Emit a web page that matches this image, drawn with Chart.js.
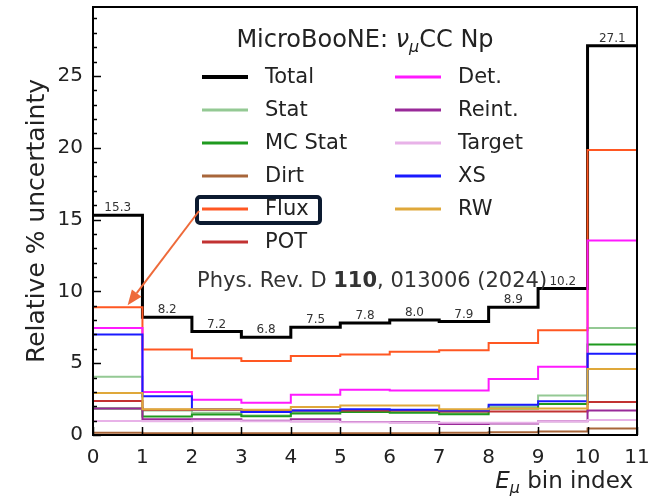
<!DOCTYPE html>
<html>
<head>
<meta charset="utf-8">
<script src="https://cdn.jsdelivr.net/npm/chart.js@4.4.1/dist/chart.umd.min.js"></script>
<style>
  body { margin: 0; background: #fff; }
  canvas { display: block; }
</style>
</head>
<body>
<canvas id="uncChart" width="654" height="498"></canvas>
<script>
// bin edges 0..11, one value per bin (relative % uncertainty)
const binEdges = [0, 1, 2, 3, 4, 5, 6, 7, 8, 9, 10, 11];
const total  = [15.3, 8.2, 7.2, 6.8, 7.5, 7.8, 8.0, 7.9, 8.9, 10.2, 27.1];
const stat   = [4.05, 1.7, 1.55, 1.35, 1.6, 1.7, 1.65, 1.55, 2.0, 2.75, 7.45];
const mcStat = [1.85, 1.28, 1.42, 1.3, 1.5, 1.6, 1.55, 1.45, 1.85, 2.15, 6.3];
const dirt   = [0.15, 0.12, 0.12, 0.12, 0.12, 0.12, 0.12, 0.15, 0.2, 0.25, 0.45];
const flux   = [8.9, 5.95, 5.35, 5.15, 5.5, 5.6, 5.8, 5.9, 6.4, 7.3, 19.85];
const pot    = [2.36, 1.75, 1.75, 1.7, 1.7, 1.7, 1.7, 1.63, 1.63, 1.63, 2.29];
const det    = [7.45, 3.0, 2.45, 2.25, 2.8, 3.15, 3.1, 3.1, 3.9, 4.75, 13.55];
const reint  = [1.85, 1.1, 1.1, 1.0, 1.1, 0.9, 0.88, 0.77, 0.8, 0.95, 1.7];
const target = [0.97, 0.95, 1.0, 0.95, 0.93, 0.88, 0.86, 0.86, 0.86, 0.95, 1.05];
const xs     = [7.0, 2.7, 1.8, 1.6, 1.7, 1.8, 1.75, 1.7, 2.1, 2.35, 5.65];
const rw     = [2.92, 1.8, 1.8, 1.75, 1.95, 2.05, 2.05, 1.8, 1.85, 1.85, 4.6];

const xTicks = [0, 1, 2, 3, 4, 5, 6, 7, 8, 9, 10, 11];
const yTicks = [0, 5, 10, 15, 20, 25];

const series = [
  { label: "Total",   data: total,  color: "#000000", width: 3 },
  { label: "Stat",    data: stat,   color: "#94c994", width: 2 },
  { label: "MC Stat", data: mcStat, color: "#1f9a1f", width: 2 },
  { label: "Dirt",    data: dirt,   color: "#a8663a", width: 2 },
  { label: "Flux",    data: flux,   color: "#ff5722", width: 2 },
  { label: "POT",     data: pot,    color: "#c23232", width: 2 },
  { label: "Det.",    data: det,    color: "#ff1aff", width: 2 },
  { label: "Reint.",  data: reint,  color: "#992a99", width: 2 },
  { label: "Target",  data: target, color: "#e8b2e8", width: 2 },
  { label: "XS",      data: xs,     color: "#1a1aff", width: 2 },
  { label: "RW",      data: rw,     color: "#dfa83a", width: 2 }
];

// histogram steps: value i holds from edge i to edge i+1
function toSteps(vals) {
  return binEdges.map((e, i) => ({ x: e, y: vals[Math.min(i, vals.length - 1)] }));
}

const FONT = "'DejaVu Sans', sans-serif";

const decorPlugin = {
  id: "decor",
  afterDraw(chart) {
    const ctx = chart.ctx;
    const a = chart.chartArea;
    const xs_ = chart.scales.x;
    const ys_ = chart.scales.y;
    ctx.save();

    // ticks (inward)
    ctx.strokeStyle = "#000";
    ctx.lineWidth = 1.5;
    for (let v = 0; v <= 29; v++) {
      const y = Math.round(ys_.getPixelForValue(v)) + 0.5;
      const len = v % 5 === 0 ? 8 : 4;
      ctx.beginPath();
      ctx.moveTo(a.left, y);
      ctx.lineTo(a.left + len, y);
      ctx.stroke();
    }
    xTicks.forEach(v => {
      const x = Math.round(xs_.getPixelForValue(v)) + 0.5;
      ctx.beginPath();
      ctx.moveTo(x, a.bottom);
      ctx.lineTo(x, a.bottom - 8);
      ctx.stroke();
    });

    // frame
    ctx.lineWidth = 2;
    ctx.strokeRect(a.left, a.top, a.right - a.left, a.bottom - a.top);

    // total values above bins
    ctx.fillStyle = "#333";
    ctx.font = "12px " + FONT;
    ctx.textAlign = "center";
    ctx.textBaseline = "alphabetic";
    total.forEach((v, i) => {
      const x = xs_.getPixelForValue(binEdges[i] + 0.5);
      const y = ys_.getPixelForValue(v) - 4;
      ctx.fillText(v.toFixed(1), x, y);
    });

    // title
    ctx.fillStyle = "#222";
    ctx.textAlign = "left";
    const t1 = "MicroBooNE: ", t4 = "CC Np";
    ctx.font = "24px " + FONT;
    const w1 = ctx.measureText(t1).width;
    const w4 = ctx.measureText(t4).width;
    ctx.font = "italic 24px " + FONT;
    const w2 = ctx.measureText("\u03bd").width;
    ctx.font = "italic 16px " + FONT;
    const w3 = ctx.measureText("\u03bc").width;
    let tx = 365 - (w1 + w2 + w3 + w4) / 2;
    const ty = 47;
    ctx.font = "24px " + FONT;
    ctx.fillText(t1, tx, ty); tx += w1;
    ctx.font = "italic 24px " + FONT;
    ctx.fillText("\u03bd", tx, ty); tx += w2;
    ctx.font = "italic 16px " + FONT;
    ctx.fillText("\u03bc", tx, ty + 5); tx += w3;
    ctx.font = "24px " + FONT;
    ctx.fillText(t4, tx, ty);

    // legend, two columns
    ctx.font = "21px " + FONT;
    ctx.textBaseline = "middle";
    series.forEach((s, i) => {
      const col = i < 6 ? 0 : 1;
      const row = col === 0 ? i : i - 6;
      const lx = col === 0 ? 202 : 395;
      const ly = 77 + row * 33;
      ctx.strokeStyle = s.color;
      ctx.lineWidth = s.width + 1;
      ctx.beginPath();
      ctx.moveTo(lx, ly);
      ctx.lineTo(lx + 46, ly);
      ctx.stroke();
      ctx.fillStyle = "#222";
      ctx.fillText(s.label, lx + 63, ly + 1);
    });

    // box around Flux entry
    ctx.strokeStyle = "#0c1a30";
    ctx.lineWidth = 4;
    ctx.beginPath();
    ctx.roundRect(197, 197, 123, 26, 3);
    ctx.stroke();

    // arrow from Flux entry to the flux line of bin 0
    const sx = 199, sy = 211;
    const ex = xs_.getPixelForValue(0.7), ey = ys_.getPixelForValue(flux[0]) - 2;
    const ang = Math.atan2(ey - sy, ex - sx);
    const hl = 15, hw = 6;
    const bx = ex - hl * Math.cos(ang), by = ey - hl * Math.sin(ang);
    ctx.strokeStyle = "#ee6a3a";
    ctx.fillStyle = "#ee6a3a";
    ctx.lineWidth = 2;
    ctx.beginPath();
    ctx.moveTo(sx, sy);
    ctx.lineTo(bx, by);
    ctx.stroke();
    ctx.beginPath();
    ctx.moveTo(ex, ey);
    ctx.lineTo(bx + hw * Math.sin(ang), by - hw * Math.cos(ang));
    ctx.lineTo(bx - hw * Math.sin(ang), by + hw * Math.cos(ang));
    ctx.closePath();
    ctx.fill();

    // reference text
    ctx.textBaseline = "alphabetic";
    ctx.fillStyle = "#333";
    let px = 197;
    const py = 287;
    ctx.font = "21px " + FONT;
    ctx.fillText("Phys. Rev. D ", px, py); px += ctx.measureText("Phys. Rev. D ").width;
    ctx.font = "bold 21px " + FONT;
    ctx.fillText("110", px, py); px += ctx.measureText("110").width;
    ctx.font = "21px " + FONT;
    ctx.fillText(", 013006 (2024)", px, py);

    // y axis title
    ctx.fillStyle = "#222";
    ctx.save();
    ctx.translate(37, (a.top + a.bottom) / 2);
    ctx.rotate(-Math.PI / 2);
    ctx.textAlign = "center";
    ctx.textBaseline = "middle";
    ctx.font = "25px " + FONT;
    ctx.fillText("Relative % uncertainty", 0, 0);
    ctx.restore();

    // x axis title, right aligned
    ctx.font = "23px " + FONT;
    const xt = " bin index";
    const wxt = ctx.measureText(xt).width;
    ctx.font = "italic 16px " + FONT;
    const wmu = ctx.measureText("\u03bc").width;
    ctx.font = "italic 23px " + FONT;
    const wE = ctx.measureText("E").width;
    let qx = a.right - 4 - (wE + wmu + wxt);
    const qy = 488;
    ctx.textAlign = "left";
    ctx.fillText("E", qx, qy); qx += wE;
    ctx.font = "italic 16px " + FONT;
    ctx.fillText("\u03bc", qx, qy + 5); qx += wmu;
    ctx.font = "23px " + FONT;
    ctx.fillText(xt, qx, qy);

    ctx.restore();
  }
};

const ctx = document.getElementById("uncChart").getContext("2d");
new Chart(ctx, {
  type: "line",
  data: {
    datasets: series.map((s, i) => ({
      label: s.label,
      data: toSteps(s.data),
      borderColor: s.color,
      backgroundColor: s.color,
      borderWidth: s.width,
      pointRadius: 0,
      stepped: true,
      fill: false,
      order: series.length - i
    }))
  },
  options: {
    responsive: false,
    animation: false,
    layout: { padding: { top: 7, right: 17, left: 0, bottom: 0 } },
    plugins: { legend: { display: false }, tooltip: { enabled: false } },
    scales: {
      x: {
        type: "linear",
        min: 0,
        max: 11,
        afterBuildTicks: s => { s.ticks = xTicks.map(v => ({ value: v })); },
        afterFit: s => { s.height = 63; s.paddingLeft = 0; s.paddingRight = 0; },
        grid: { display: false, drawTicks: false },
        border: { display: false },
        ticks: { color: "#222", padding: 11, font: { family: FONT, size: 20 }, maxRotation: 0 }
      },
      y: {
        type: "linear",
        min: 0,
        max: 29.8,
        afterBuildTicks: s => { s.ticks = yTicks.map(v => ({ value: v })); },
        afterFit: s => { s.width = 93; s.paddingTop = 0; s.paddingBottom = 0; },
        grid: { display: false, drawTicks: false },
        border: { display: false },
        ticks: { color: "#222", padding: 10, font: { family: FONT, size: 20 } }
      }
    }
  },
  plugins: [decorPlugin]
});
</script>
</body>
</html>
